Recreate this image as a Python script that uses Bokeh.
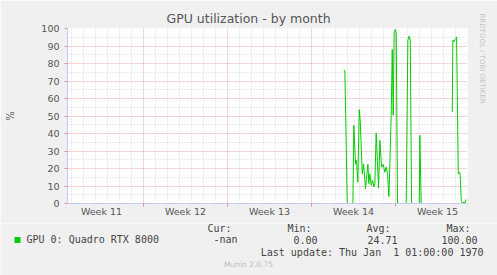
from bokeh.plotting import figure
from bokeh.layouts import column
from bokeh.models import Range1d, FixedTicker, Label, Title
from bokeh.embed import file_html
from bokeh.resources import INLINE

# ---- data (x = days; week boundaries at 7, 14, 21, 28) ----
days = [23.70, 23.78, 23.98, 24.45, 24.53, 24.67, 24.75, 24.86, 24.98, 25.06,
        25.23, 25.34, 25.50, 25.70, 25.78, 25.86, 25.98, 26.09, 26.20, 26.28,
        26.39, 26.59, 26.70, 26.84, 26.98, 27.11, 27.23, 27.34, 27.45, 27.53,
        27.64, 27.73, 27.81, 27.89, 27.98, 28.06, 28.17, 28.89, 29.03, 29.14,
        29.23, 29.34, 29.98, 30.03, 30.14, 30.64, float('nan'),
        32.73, 32.78, 32.86, 32.95, 33.03, 33.09, 33.23, 33.34, 33.39,
        33.48, 33.59, 33.70, 33.78, 33.89]
gpu_util = [76.5, 75.8, 0.0, 0.0, 44.7, 22.7, 24.6, 12.2, 53.6, 47.5,
            17.0, 22.7, 8.4, 22.3, 11.3, 17.0, 10.3, 13.2, 9.4, 11.6,
            40.3, 8.8, 36.1, 20.8, 22.3, 17.9, 20.8, 16.6, 4.0, 22.7,
            50.4, 88.0, 50.4, 98.1, 99.4, 97.1, 0.0, 0.0, 93.3, 95.6,
            93.3, 0.0, 0.0, 38.9, 0.0, 0.0, float('nan'),
            52.3, 93.3, 92.4, 93.7, 94.3, 95.2, 17.0, 17.9, 16.0,
            1.7, 0.0, 0.8, 0.2, 2.3]

week_labels = ["Week 11", "Week 12", "Week 13", "Week 14", "Week 15"]
week_centers = [3.5, 10.5, 17.5, 24.5, 31.5]
week_bounds = [7, 14, 21, 28]
day_ticks = [d for d in range(1, 34) if d % 7 != 0]
y_ticks = list(range(0, 101, 10))
y_minor = list(range(5, 100, 10))

title_text = "GPU utilization - by month"
y_label = "%"
watermark = "RRDTOOL / TOBI OETIKER"
series_name = "GPU 0: Quadro RTX 8000"
stats_heads = ["Cur:", "Min:", "Avg:", "Max:"]
stats_vals = ["-nan", "0.00", "24.71", "100.00"]
last_update = "Last update: Thu Jan \u00a01 01:00:00 1970"
footer = "Munin 2.0.75"

FONT = "DejaVu Sans"
MONO = "DejaVu Sans Mono"
TXT = "#555555"
DARK = "#444444"
AX = "#C8C8F8"
BG = "#F0F0F0"
GREEN = "#00CC00"

X0, X1 = 0.6667, 34.0
W = 497
HA = 223
HB = 275 - HA
L, R, T = 67, 30, 28
Bm = HA - 203

p = figure(width=W, height=HA, output_backend="svg", toolbar_location=None,
           x_range=Range1d(X0, X1), y_range=Range1d(0, 100), title=title_text,
           min_border_left=L, min_border_right=R, min_border_top=T, min_border_bottom=Bm)
p.frame_align = False
p.border_fill_color = BG
p.background_fill_color = "#FFFFFF"
p.outline_line_color = None
p.title.align = "left"
p.title.offset = 99
p.title.text_font = FONT
p.title.text_font_size = "12.5px"
p.title.text_font_style = "normal"
p.title.text_color = TXT
p.title.standoff = 5

xa = p.xaxis[0]
xa.ticker = FixedTicker(ticks=week_centers, minor_ticks=week_bounds)
xa.major_label_overrides = {c: l for c, l in zip(week_centers, week_labels)}
xa.major_tick_line_color = None
xa.major_tick_out = 0
xa.major_tick_in = 0
xa.minor_tick_line_color = "#E09090"
xa.minor_tick_out = 3
xa.minor_tick_in = 0
xa.axis_line_color = AX
xa.major_label_standoff = -1
xa.major_label_text_font = FONT
xa.major_label_text_font_size = "9.5px"
xa.major_label_text_color = TXT

ya = p.yaxis[0]
ya.ticker = FixedTicker(ticks=y_ticks, minor_ticks=y_minor)
ya.major_tick_line_color = "#E09090"
ya.major_tick_out = 3
ya.major_tick_in = 0
ya.minor_tick_line_color = None
ya.axis_line_color = AX
ya.major_label_standoff = 4
ya.major_label_text_font = FONT
ya.major_label_text_font_size = "9.5px"
ya.major_label_text_color = TXT
ya.axis_label = y_label
ya.axis_label_text_font = FONT
ya.axis_label_text_font_size = "10px"
ya.axis_label_text_font_style = "normal"
ya.axis_label_text_color = TXT
ya.axis_label_standoff = 22

p.xgrid.ticker = FixedTicker(ticks=week_bounds, minor_ticks=day_ticks)
p.xgrid.grid_line_color = "#E8A8A8"
p.xgrid.grid_line_dash = "1 1"
p.xgrid.minor_grid_line_color = "#D4D4D4"
p.xgrid.minor_grid_line_dash = "1 2"
p.ygrid.ticker = FixedTicker(ticks=y_ticks, minor_ticks=y_minor)
p.ygrid.grid_line_color = "#E8A8A8"
p.ygrid.grid_line_dash = "1 1"
p.ygrid.minor_grid_line_color = "#D4D4D4"
p.ygrid.minor_grid_line_dash = "1 2"

p.line(days, gpu_util, line_color=GREEN, line_width=1)

wm = Title(text=watermark, align="left", text_font=FONT, text_font_size="7px",
           text_font_style="normal", text_color="#C4C4C4", offset=-15, standoff=20)
p.add_layout(wm, "right")

# ---- legend strip (its own figure; coordinates are pixel positions of the strip) ----
q = figure(width=W, height=HB, output_backend="svg", toolbar_location=None,
           x_range=Range1d(0, W), y_range=Range1d(HB, 0), x_axis_type=None, y_axis_type=None,
           min_border=0, title=None)
q.frame_align = False
q.border_fill_color = BG
q.background_fill_color = BG
q.outline_line_color = None
q.xgrid.visible = False
q.ygrid.visible = False

top = HA
q.rect(x=[17], y=[239.5 - top], width=6, height=6, fill_color=GREEN, line_color=None)

def lab(text, x, y, size, font=MONO, color=DARK, align="left"):
    q.add_layout(Label(x=x, y=y - top, text=text, text_font=font, text_font_size=size,
                       text_color=color, text_align=align, text_baseline="middle"))

lab(series_name, 26, 239, "10px")
for h, v, hx, vx in zip(stats_heads, stats_vals, [231, 311, 390, 470], [237, 317, 397, 477]):
    lab(h, hx, 228, "10px", align="right")
    lab(v, vx, 239, "10px", align="right")
lab(last_update, 483, 252, "10px", align="right")
lab(footer, 248, 264, "7.5px", font=FONT, color="#BBBBBB", align="center")

layout = column(p, q, spacing=0)
open("out.html", "w").write(file_html(layout, INLINE))
